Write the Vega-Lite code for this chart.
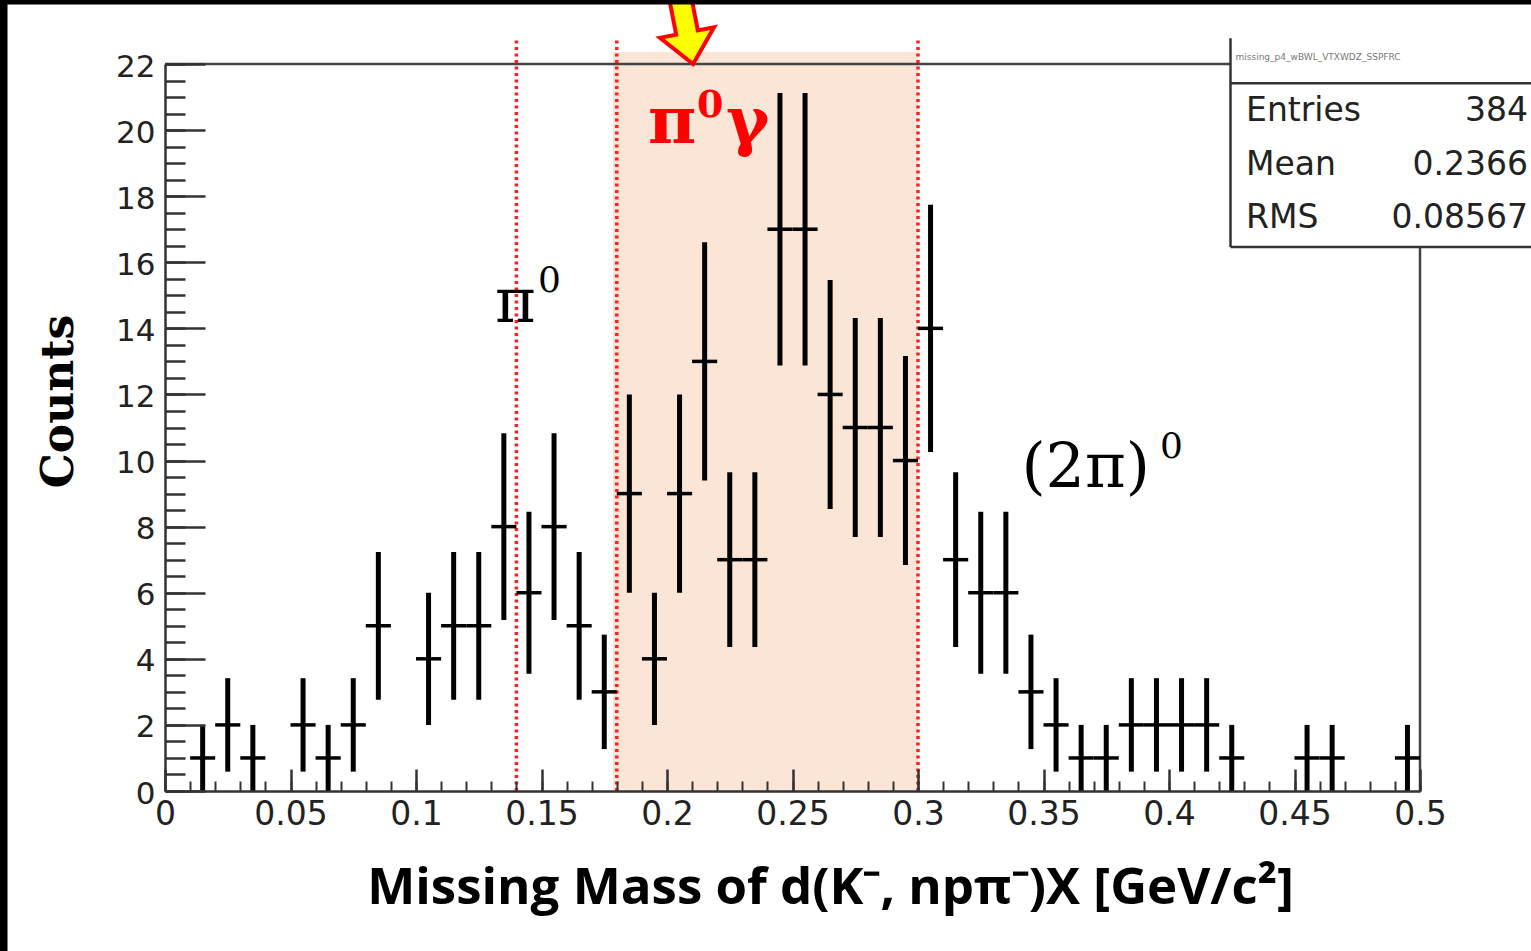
{
  "$schema": "https://vega.github.io/schema/vega-lite/v6.json",
  "width": 1255,
  "height": 727,
  "autosize": {"type": "none"},
  "padding": {"left": 165, "top": 64, "right": 111, "bottom": 160},
  "background": "white",
  "config": {"view": {"stroke": null}},
  "datasets": {
    "bins": [
      {"x0": 0.01, "x1": 0.02, "xc": 0.015, "n": 1, "ylo": 0, "yhi": 2},
      {"x0": 0.02, "x1": 0.03, "xc": 0.025, "n": 2, "ylo": 0.586, "yhi": 3.414},
      {"x0": 0.03, "x1": 0.04, "xc": 0.035, "n": 1, "ylo": 0, "yhi": 2},
      {"x0": 0.05, "x1": 0.06, "xc": 0.055, "n": 2, "ylo": 0.586, "yhi": 3.414},
      {"x0": 0.06, "x1": 0.07, "xc": 0.065, "n": 1, "ylo": 0, "yhi": 2},
      {"x0": 0.07, "x1": 0.08, "xc": 0.075, "n": 2, "ylo": 0.586, "yhi": 3.414},
      {"x0": 0.08, "x1": 0.09, "xc": 0.085, "n": 5, "ylo": 2.764, "yhi": 7.236},
      {"x0": 0.10, "x1": 0.11, "xc": 0.105, "n": 4, "ylo": 2, "yhi": 6},
      {"x0": 0.11, "x1": 0.12, "xc": 0.115, "n": 5, "ylo": 2.764, "yhi": 7.236},
      {"x0": 0.12, "x1": 0.13, "xc": 0.125, "n": 5, "ylo": 2.764, "yhi": 7.236},
      {"x0": 0.13, "x1": 0.14, "xc": 0.135, "n": 8, "ylo": 5.172, "yhi": 10.828},
      {"x0": 0.14, "x1": 0.15, "xc": 0.145, "n": 6, "ylo": 3.551, "yhi": 8.449},
      {"x0": 0.15, "x1": 0.16, "xc": 0.155, "n": 8, "ylo": 5.172, "yhi": 10.828},
      {"x0": 0.16, "x1": 0.17, "xc": 0.165, "n": 5, "ylo": 2.764, "yhi": 7.236},
      {"x0": 0.17, "x1": 0.18, "xc": 0.175, "n": 3, "ylo": 1.268, "yhi": 4.732},
      {"x0": 0.18, "x1": 0.19, "xc": 0.185, "n": 9, "ylo": 6, "yhi": 12},
      {"x0": 0.19, "x1": 0.20, "xc": 0.195, "n": 4, "ylo": 2, "yhi": 6},
      {"x0": 0.20, "x1": 0.21, "xc": 0.205, "n": 9, "ylo": 6, "yhi": 12},
      {"x0": 0.21, "x1": 0.22, "xc": 0.215, "n": 13, "ylo": 9.394, "yhi": 16.606},
      {"x0": 0.22, "x1": 0.23, "xc": 0.225, "n": 7, "ylo": 4.354, "yhi": 9.646},
      {"x0": 0.23, "x1": 0.24, "xc": 0.235, "n": 7, "ylo": 4.354, "yhi": 9.646},
      {"x0": 0.24, "x1": 0.25, "xc": 0.245, "n": 17, "ylo": 12.877, "yhi": 21.123},
      {"x0": 0.25, "x1": 0.26, "xc": 0.255, "n": 17, "ylo": 12.877, "yhi": 21.123},
      {"x0": 0.26, "x1": 0.27, "xc": 0.265, "n": 12, "ylo": 8.536, "yhi": 15.464},
      {"x0": 0.27, "x1": 0.28, "xc": 0.275, "n": 11, "ylo": 7.683, "yhi": 14.317},
      {"x0": 0.28, "x1": 0.29, "xc": 0.285, "n": 11, "ylo": 7.683, "yhi": 14.317},
      {"x0": 0.29, "x1": 0.30, "xc": 0.295, "n": 10, "ylo": 6.838, "yhi": 13.162},
      {"x0": 0.30, "x1": 0.31, "xc": 0.305, "n": 14, "ylo": 10.258, "yhi": 17.742},
      {"x0": 0.31, "x1": 0.32, "xc": 0.315, "n": 7, "ylo": 4.354, "yhi": 9.646},
      {"x0": 0.32, "x1": 0.33, "xc": 0.325, "n": 6, "ylo": 3.551, "yhi": 8.449},
      {"x0": 0.33, "x1": 0.34, "xc": 0.335, "n": 6, "ylo": 3.551, "yhi": 8.449},
      {"x0": 0.34, "x1": 0.35, "xc": 0.345, "n": 3, "ylo": 1.268, "yhi": 4.732},
      {"x0": 0.35, "x1": 0.36, "xc": 0.355, "n": 2, "ylo": 0.586, "yhi": 3.414},
      {"x0": 0.36, "x1": 0.37, "xc": 0.365, "n": 1, "ylo": 0, "yhi": 2},
      {"x0": 0.37, "x1": 0.38, "xc": 0.375, "n": 1, "ylo": 0, "yhi": 2},
      {"x0": 0.38, "x1": 0.39, "xc": 0.385, "n": 2, "ylo": 0.586, "yhi": 3.414},
      {"x0": 0.39, "x1": 0.40, "xc": 0.395, "n": 2, "ylo": 0.586, "yhi": 3.414},
      {"x0": 0.40, "x1": 0.41, "xc": 0.405, "n": 2, "ylo": 0.586, "yhi": 3.414},
      {"x0": 0.41, "x1": 0.42, "xc": 0.415, "n": 2, "ylo": 0.586, "yhi": 3.414},
      {"x0": 0.42, "x1": 0.43, "xc": 0.425, "n": 1, "ylo": 0, "yhi": 2},
      {"x0": 0.45, "x1": 0.46, "xc": 0.455, "n": 1, "ylo": 0, "yhi": 2},
      {"x0": 0.46, "x1": 0.47, "xc": 0.465, "n": 1, "ylo": 0, "yhi": 2},
      {"x0": 0.49, "x1": 0.50, "xc": 0.495, "n": 1, "ylo": 0, "yhi": 2}
    ],
    "cuts": [{"cut": 0.14}, {"cut": 0.18}, {"cut": 0.30}],
    "window": [{"from": 0.1785, "to": 0.30}],
    "stats": [
      {"stat": "Entries", "val": "384", "row": 20.57},
      {"stat": "Mean", "val": "0.2366", "row": 18.94},
      {"stat": "RMS", "val": "0.08567", "row": 17.34}
    ],
    "bigBlack": [
      {"t": "π", "px": 0.1315, "py": 14.19},
      {"t": "(2π)", "px": 0.3412, "py": 9.2}
    ],
    "supBlack": [
      {"t": "0", "px": 0.1486, "py": 15.1},
      {"t": "0", "px": 0.3964, "py": 10.08}
    ],
    "bigRed": [
      {"t": "π", "px": 0.1924, "py": 19.61},
      {"t": "γ", "px": 0.2235, "py": 19.61}
    ],
    "supRed": [
      {"t": "0", "px": 0.212, "py": 20.39}
    ],
    "one": [{}]
  },
  "resolve": {"axis": {"x": "independent", "y": "independent"}},
  "layer": [
    {
      "data": {"name": "window"},
      "mark": {"type": "rect", "color": "#FBE5D6"},
      "encoding": {
        "x": {
          "field": "from", "type": "quantitative",
          "scale": {"domain": [0, 0.5], "nice": false, "zero": false},
          "axis": {
            "orient": "bottom",
            "values": [0, 0.05, 0.1, 0.15, 0.2, 0.25, 0.3, 0.35, 0.4, 0.45, 0.5],
            "format": "~g",
            "tickSize": -22, "tickWidth": 2.5, "tickColor": "#333333",
            "domainColor": "#333333", "domainWidth": 2.5,
            "labelPadding": 29, "labelFont": "DejaVu Sans", "labelFontSize": 33,
            "labelColor": "#222222", "labelFlush": false, "labelOverlap": false,
            "grid": false, "zindex": 1,
            "title": "Missing Mass of d(K⁻, npπ⁻)X [GeV/c²]",
            "titleFont": "Open Sans", "titleFontSize": 51, "titleFontWeight": "bold",
            "titleColor": "#000000", "titleX": 665, "titleY": 112,
            "titleAlign": "center", "titleBaseline": "alphabetic"
          }
        },
        "x2": {"field": "to"},
        "y": {
          "datum": 0, "type": "quantitative",
          "scale": {"domain": [0, 22], "nice": false, "zero": false},
          "axis": {
            "orient": "left",
            "values": [0, 2, 4, 6, 8, 10, 12, 14, 16, 18, 20, 22],
            "tickSize": -40, "tickWidth": 2.5, "tickColor": "#333333",
            "domainColor": "#333333", "domainWidth": 2.5,
            "labelPadding": 50, "labelFont": "DejaVu Sans", "labelFontSize": 31,
            "labelColor": "#222222", "labelFlush": false, "labelOverlap": false,
            "labelOffset": 3,
            "grid": false, "zindex": 1,
            "title": "Counts",
            "titleFont": "DejaVu Serif", "titleFontSize": 44, "titleFontWeight": "bold",
            "titleColor": "#000000", "titleX": -93, "titleY": 337, "titleAngle": 270,
            "titleAlign": "center", "titleBaseline": "alphabetic"
          }
        },
        "y2": {"datum": 22.36}
      }
    },
    {
      "data": {"name": "one"},
      "mark": {"type": "rule", "color": "#444444", "strokeWidth": 2.5},
      "encoding": {
        "x": {"datum": 0, "type": "quantitative", "axis": null},
        "x2": {"datum": 0.5},
        "y": {"datum": 22, "type": "quantitative", "axis": null}
      }
    },
    {
      "data": {"name": "one"},
      "mark": {"type": "rule", "color": "#444444", "strokeWidth": 2.5},
      "encoding": {
        "x": {"datum": 0.5, "type": "quantitative", "axis": null},
        "y": {"datum": 0, "type": "quantitative", "axis": null},
        "y2": {"datum": 22}
      }
    },
    {
      "data": {"name": "cuts"},
      "mark": {"type": "rule", "color": "#FF1F1F", "strokeWidth": 3.5, "strokeDash": [3, 3.5]},
      "encoding": {
        "x": {
          "field": "cut", "type": "quantitative",
          "axis": {
            "orient": "bottom",
            "values": [0, 0.01, 0.02, 0.03, 0.04, 0.05, 0.06, 0.07, 0.08, 0.09, 0.1, 0.11, 0.12, 0.13, 0.14, 0.15, 0.16, 0.17, 0.18, 0.19, 0.2, 0.21, 0.22, 0.23, 0.24, 0.25, 0.26, 0.27, 0.28, 0.29, 0.3, 0.31, 0.32, 0.33, 0.34, 0.35, 0.36, 0.37, 0.38, 0.39, 0.4, 0.41, 0.42, 0.43, 0.44, 0.45, 0.46, 0.47, 0.48, 0.49, 0.5],
            "tickSize": -10, "tickWidth": 2, "tickColor": "#333333",
            "labels": false, "domain": false, "grid": false, "title": null, "zindex": 1
          }
        },
        "y": {
          "datum": 0, "type": "quantitative",
          "axis": {
            "orient": "left",
            "values": [0, 0.5, 1, 1.5, 2, 2.5, 3, 3.5, 4, 4.5, 5, 5.5, 6, 6.5, 7, 7.5, 8, 8.5, 9, 9.5, 10, 10.5, 11, 11.5, 12, 12.5, 13, 13.5, 14, 14.5, 15, 15.5, 16, 16.5, 17, 17.5, 18, 18.5, 19, 19.5, 20, 20.5, 21, 21.5, 22],
            "tickSize": -20, "tickWidth": 2.5, "tickColor": "#333333",
            "labels": false, "domain": false, "grid": false, "title": null, "zindex": 1
          }
        },
        "y2": {"datum": 22.78}
      }
    },
    {
      "data": {"name": "bins"},
      "mark": {"type": "rule", "color": "#000000", "strokeWidth": 5},
      "encoding": {
        "x": {"field": "xc", "type": "quantitative", "axis": null},
        "y": {"field": "ylo", "type": "quantitative", "axis": null},
        "y2": {"field": "yhi"}
      }
    },
    {
      "data": {"name": "bins"},
      "mark": {"type": "rule", "color": "#000000", "strokeWidth": 3.5},
      "encoding": {
        "x": {"field": "x0", "type": "quantitative", "axis": null},
        "x2": {"field": "x1"},
        "y": {"field": "n", "type": "quantitative", "axis": null}
      }
    },
    {
      "data": {"name": "one"},
      "mark": {"type": "rect", "color": "#FFFFFF"},
      "encoding": {
        "x": {"datum": 0.4245, "type": "quantitative", "axis": null},
        "x2": {"datum": 0.62},
        "y": {"datum": 16.46, "type": "quantitative", "axis": null},
        "y2": {"datum": 22.78}
      }
    },
    {
      "data": {"name": "one"},
      "mark": {"type": "rule", "color": "#333333", "strokeWidth": 2.5},
      "encoding": {
        "x": {"datum": 0.4245, "type": "quantitative", "axis": null},
        "y": {"datum": 16.46, "type": "quantitative", "axis": null},
        "y2": {"datum": 22.78}
      }
    },
    {
      "data": {"name": "one"},
      "mark": {"type": "rule", "color": "#333333", "strokeWidth": 2.5},
      "encoding": {
        "x": {"datum": 0.4245, "type": "quantitative", "axis": null},
        "x2": {"datum": 0.62},
        "y": {"datum": 16.46, "type": "quantitative", "axis": null}
      }
    },
    {
      "data": {"name": "one"},
      "mark": {"type": "rule", "color": "#333333", "strokeWidth": 2.5},
      "encoding": {
        "x": {"datum": 0.4245, "type": "quantitative", "axis": null},
        "x2": {"datum": 0.62},
        "y": {"datum": 21.42, "type": "quantitative", "axis": null}
      }
    },
    {
      "data": {"name": "one"},
      "mark": {"type": "text", "align": "left", "baseline": "middle", "font": "DejaVu Sans", "fontSize": 9, "color": "#777777"},
      "encoding": {
        "x": {"datum": 0.4265, "type": "quantitative", "axis": null},
        "y": {"datum": 22.21, "type": "quantitative", "axis": null},
        "text": {"value": "missing_p4_wBWL_VTXWDZ_SSPFRC"}
      }
    },
    {
      "data": {"name": "stats"},
      "mark": {"type": "text", "align": "left", "baseline": "middle", "font": "DejaVu Sans", "fontSize": 33, "color": "#222222"},
      "encoding": {
        "x": {"datum": 0.4307, "type": "quantitative", "axis": null},
        "y": {"field": "row", "type": "quantitative", "axis": null},
        "text": {"field": "stat"}
      }
    },
    {
      "data": {"name": "stats"},
      "mark": {"type": "text", "align": "right", "baseline": "middle", "font": "DejaVu Sans", "fontSize": 33, "color": "#222222"},
      "encoding": {
        "x": {"datum": 0.543, "type": "quantitative", "axis": null},
        "y": {"field": "row", "type": "quantitative", "axis": null},
        "text": {"field": "val"}
      }
    },
    {
      "data": {"name": "bigBlack"},
      "mark": {"type": "text", "align": "left", "baseline": "alphabetic", "font": "DejaVu Serif", "fontSize": 62, "color": "#000000"},
      "encoding": {
        "x": {"field": "px", "type": "quantitative", "axis": null},
        "y": {"field": "py", "type": "quantitative", "axis": null},
        "text": {"field": "t"}
      }
    },
    {
      "data": {"name": "supBlack"},
      "mark": {"type": "text", "align": "left", "baseline": "alphabetic", "font": "DejaVu Serif", "fontSize": 36, "color": "#000000"},
      "encoding": {
        "x": {"field": "px", "type": "quantitative", "axis": null},
        "y": {"field": "py", "type": "quantitative", "axis": null},
        "text": {"field": "t"}
      }
    },
    {
      "data": {"name": "bigRed"},
      "mark": {"type": "text", "align": "left", "baseline": "alphabetic", "font": "DejaVu Serif", "fontWeight": "bold", "fontSize": 66, "color": "#FF0000"},
      "encoding": {
        "x": {"field": "px", "type": "quantitative", "axis": null},
        "y": {"field": "py", "type": "quantitative", "axis": null},
        "text": {"field": "t"}
      }
    },
    {
      "data": {"name": "supRed"},
      "mark": {"type": "text", "align": "left", "baseline": "alphabetic", "font": "DejaVu Serif", "fontWeight": "bold", "fontSize": 38, "color": "#FF0000"},
      "encoding": {
        "x": {"field": "px", "type": "quantitative", "axis": null},
        "y": {"field": "py", "type": "quantitative", "axis": null},
        "text": {"field": "t"}
      }
    },
    {
      "data": {"name": "one"},
      "mark": {
        "type": "point",
        "shape": "M 0 0 L -2.75 -3.2 L -1.1 -3.2 L -1.1 -9 L 1.1 -9 L 1.1 -3.2 L 2.75 -3.2 Z",
        "size": 400, "angle": 349, "filled": true,
        "fill": "#FFFF00", "stroke": "#FF0000", "strokeWidth": 4, "opacity": 1, "fillOpacity": 1
      },
      "encoding": {
        "x": {"datum": 0.2104, "type": "quantitative", "axis": null},
        "y": {"datum": 22.0, "type": "quantitative", "axis": null}
      }
    },
    {
      "data": {"name": "one"},
      "mark": {"type": "rule", "color": "#000000", "strokeWidth": 8},
      "encoding": {
        "x": {"datum": -0.06434, "type": "quantitative", "axis": null},
        "y": {"datum": -10, "type": "quantitative", "axis": null},
        "y2": {"datum": 30}
      }
    },
    {
      "data": {"name": "one"},
      "mark": {"type": "rule", "color": "#000000", "strokeWidth": 5},
      "encoding": {
        "x": {"datum": -0.1, "type": "quantitative", "axis": null},
        "x2": {"datum": 0.7},
        "y": {"datum": 23.873, "type": "quantitative", "axis": null}
      }
    }
  ]
}
